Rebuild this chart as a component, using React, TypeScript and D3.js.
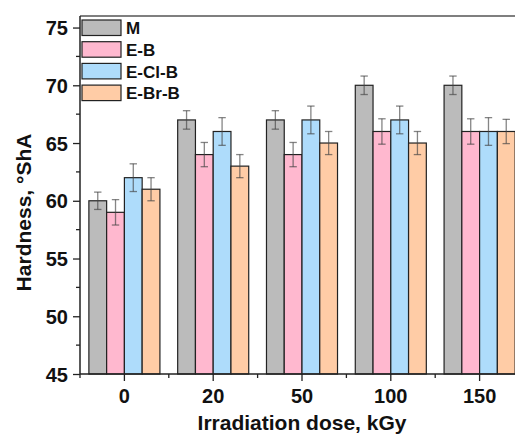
import React, { useEffect, useRef } from "react";
import * as d3 from "d3";

const doses = ["0", "20", "50", "100", "150"];
const series = ["M", "E-B", "E-Cl-B", "E-Br-B"];
const colors = ["#bbbbbb", "#ffb8cf", "#aedcfb", "#ffcca6"];

const valM = [60, 67, 67, 70, 70];
const valEB = [59, 64, 64, 66, 66];
const valECl = [62, 66, 67, 67, 66];
const valEBr = [61, 63, 65, 65, 66];

const errM = [0.75, 0.8, 0.8, 0.8, 0.8];
const errEB = [1.1, 1.05, 1.05, 1.1, 1.1];
const errECl = [1.2, 1.2, 1.2, 1.2, 1.2];
const errEBr = [1.0, 1.0, 1.0, 1.0, 1.05];

const yTicks = [45, 50, 55, 60, 65, 70, 75];

const values = [valM, valEB, valECl, valEBr];
const errors = [errM, errEB, errECl, errEBr];

const App = () => {
    const svgRef = useRef(null);

    useEffect(() => {
        const width = 515;
        const height = 434;
        const left = 80;
        const top = 16;
        const bottom = 374;
        const right = 524;

        const svg = d3.select(svgRef.current)
            .attr("width", width)
            .attr("height", height)
            .style("display", "block")
            .style("background", "white");
        svg.selectAll("*").remove();

        const x = d3.scaleBand().domain(doses).range([left, right]).paddingInner(0).paddingOuter(0);
        const xs = d3.scaleBand().domain(series).range([0, x.bandwidth()]).paddingInner(0).paddingOuter(0.5);
        const y = d3.scaleLinear().domain([45, 76]).range([bottom, top]);

        const font = "Arial, 'Liberation Sans', sans-serif";

        // bars
        const rows = [];
        series.forEach((s, si) => {
            doses.forEach((d, di) => {
                rows.push({ s, si, d, v: values[si][di], e: errors[si][di] });
            });
        });

        svg.append("g")
            .selectAll("rect")
            .data(rows)
            .join("rect")
            .attr("x", (r) => x(r.d) + xs(r.s))
            .attr("y", (r) => y(r.v))
            .attr("width", xs.bandwidth())
            .attr("height", (r) => bottom - y(r.v))
            .attr("fill", (r) => colors[r.si])
            .attr("stroke", "#222")
            .attr("stroke-width", 1.2);

        // error bars
        const eb = svg.append("g")
            .attr("stroke", "#444")
            .attr("stroke-opacity", 0.65)
            .attr("stroke-width", 1.3)
            .selectAll("g")
            .data(rows)
            .join("g")
            .attr("transform", (r) => `translate(${x(r.d) + xs(r.s) + xs.bandwidth() / 2},0)`);
        eb.append("line")
            .attr("y1", (r) => y(r.v + r.e))
            .attr("y2", (r) => y(r.v - r.e));
        eb.append("line").attr("x1", -3.7).attr("x2", 3.7)
            .attr("y1", (r) => y(r.v + r.e)).attr("y2", (r) => y(r.v + r.e));
        eb.append("line").attr("x1", -3.7).attr("x2", 3.7)
            .attr("y1", (r) => y(r.v - r.e)).attr("y2", (r) => y(r.v - r.e));

        // frame
        svg.append("line").attr("x1", left).attr("x2", width).attr("y1", top).attr("y2", top)
            .attr("stroke", "#555").attr("stroke-width", 1.5);

        // y axis
        const yAxis = svg.append("g").attr("transform", `translate(${left},0)`)
            .call(d3.axisLeft(y).tickValues(yTicks).tickSize(7).tickPadding(5).tickFormat(d3.format("d")));
        yAxis.select(".domain").attr("d", `M0,${top}V${bottom}`).attr("stroke", "#222").attr("stroke-width", 1.5);
        yAxis.selectAll(".tick line").attr("stroke", "#222").attr("stroke-width", 1.3);
        yAxis.selectAll("text").attr("font-family", font).attr("font-weight", "bold")
            .attr("font-size", 20).attr("fill", "#111").attr("dy", "0.36em");
        yAxis.append("g").selectAll("line")
            .data(d3.range(47.5, 76, 5))
            .join("line")
            .attr("x1", -4).attr("x2", 0)
            .attr("y1", (d) => y(d)).attr("y2", (d) => y(d))
            .attr("stroke", "#222").attr("stroke-width", 1.3);

        // x axis
        const xAxis = svg.append("g").attr("transform", `translate(0,${bottom})`)
            .call(d3.axisBottom(x).tickSize(7).tickPadding(8));
        xAxis.select(".domain").attr("d", `M${left},0H${width}`).attr("stroke", "#222").attr("stroke-width", 1.5);
        xAxis.selectAll(".tick line").attr("stroke", "#222").attr("stroke-width", 1.3);
        xAxis.selectAll("text").attr("font-family", font).attr("font-weight", "bold")
            .attr("font-size", 20).attr("fill", "#111");
        xAxis.append("g").selectAll("line")
            .data(doses)
            .join("line")
            .attr("x1", (d) => x(d)).attr("x2", (d) => x(d))
            .attr("y1", 0).attr("y2", 4)
            .attr("stroke", "#222").attr("stroke-width", 1.3);

        // axis titles
        svg.append("text")
            .attr("transform", `translate(31,212.5) rotate(-90)`)
            .attr("text-anchor", "middle")
            .attr("font-family", font).attr("font-weight", "bold").attr("font-size", 21)
            .attr("fill", "#111")
            .text("Hardness, °ShA");
        svg.append("text")
            .attr("x", (left + right) / 2).attr("y", 430)
            .attr("text-anchor", "middle")
            .attr("font-family", font).attr("font-weight", "bold").attr("font-size", 21)
            .attr("fill", "#111")
            .text("Irradiation dose, kGy");

        // legend
        const lg = svg.append("g").attr("transform", "translate(82,20)")
            .selectAll("g")
            .data(series)
            .join("g")
            .attr("transform", (d, i) => `translate(0,${i * 21.7})`);
        lg.append("rect")
            .attr("width", 39).attr("height", 15.5)
            .attr("fill", (d, i) => colors[i])
            .attr("stroke", "#222").attr("stroke-width", 1.2);
        lg.append("text")
            .attr("x", 44).attr("y", 8).attr("dy", "0.36em")
            .attr("font-family", font).attr("font-weight", "bold").attr("font-size", 17)
            .attr("fill", "#111")
            .text((d) => d);
    }, []);

    return (
        <div style={{ position: "fixed", left: 0, top: 0, width: 515, height: 434, overflow: "hidden" }}>
            <svg ref={svgRef} />
        </div>
    );
};

export default App;
